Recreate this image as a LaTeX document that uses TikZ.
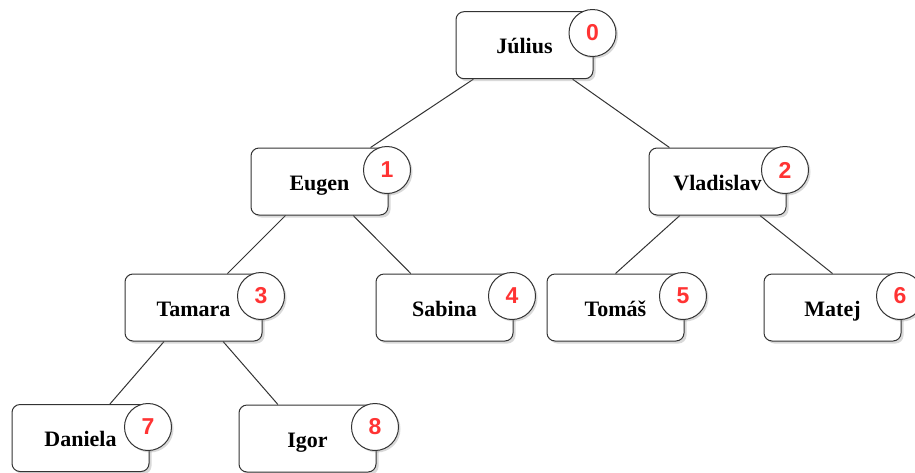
\documentclass[tikz,border=0pt]{standalone}
\usepackage{fontspec}
\setmainfont{Liberation Serif}
\newfontfamily\numfont{Liberation Sans}
\usetikzlibrary{shadows,backgrounds}
\definecolor{numred}{HTML}{FF3333}
\definecolor{edgegray}{HTML}{333333}
\tikzset{
  person/.style={draw=edgegray, line width=1pt, rounded corners=8pt, fill=white,
    minimum width=137pt, minimum height=67pt, inner sep=0pt,
    text height=17pt, text depth=0pt,
    font=\fontsize{22}{26}\selectfont\bfseries,
    drop shadow={shadow xshift=2.5pt, shadow yshift=-2.5pt, opacity=0.3, fill=gray}},
  badge/.style={draw=edgegray, line width=1pt, circle, fill=white, minimum size=47pt,
    inner sep=0pt, text=numred, font=\numfont\fontsize{23}{27}\selectfont\bfseries,
    drop shadow={shadow xshift=2pt, shadow yshift=-2pt, opacity=0.3, fill=gray}},
  link/.style={draw=edgegray, line width=1pt}
}
\begin{document}
\begin{tikzpicture}[x=1pt, y=-1pt]
\useasboundingbox (0,0) rectangle (915,472);
% boxes: centre = (left+68.5, top+33.5)
\node[person] (julius)   at (524.5, 45.2) {Július};
\node[person] (eugen)    at (319.5, 181.5) {Eugen};
\node[person] (vladislav) at (717.5, 181.5) {Vladislav};
\node[person] (tamara)   at (193.5, 307.5) {Tamara};
\node[person] (sabina)   at (444.5, 307.5) {Sabina};
\node[person] (tomas)    at (615.5, 307.5) {Tomáš};
\node[person] (matej)    at (832.5, 307.5) {Matej};
\node[person] (daniela)  at (80.5, 438) {Daniela};
\node[person] (igor)     at (307.5, 438.5) {Igor};
% badges
\node[badge] (b0) at (592.5, 33) {0};
\node[badge] (b1) at (387, 170) {1};
\node[badge] (b2) at (785, 170) {2};
\node[badge] (b3) at (261, 296) {3};
\node[badge] (b4) at (512, 296) {4};
\node[badge] (b5) at (683, 296) {5};
\node[badge] (b6) at (900, 296) {6};
\node[badge] (b7) at (148, 427) {7};
\node[badge] (b8) at (375, 427) {8};
\begin{scope}[on background layer]
\draw[link] (julius) -- (eugen);
\draw[link] (julius) -- (vladislav);
\draw[link] (eugen) -- (tamara);
\draw[link] (eugen) -- (sabina);
\draw[link] (vladislav) -- (tomas.north);
\draw[link] (vladislav) -- (matej.north);
\draw[link] (tamara) -- (daniela);
\draw[link] (tamara) -- (igor);
\end{scope}
\end{tikzpicture}
\end{document}
